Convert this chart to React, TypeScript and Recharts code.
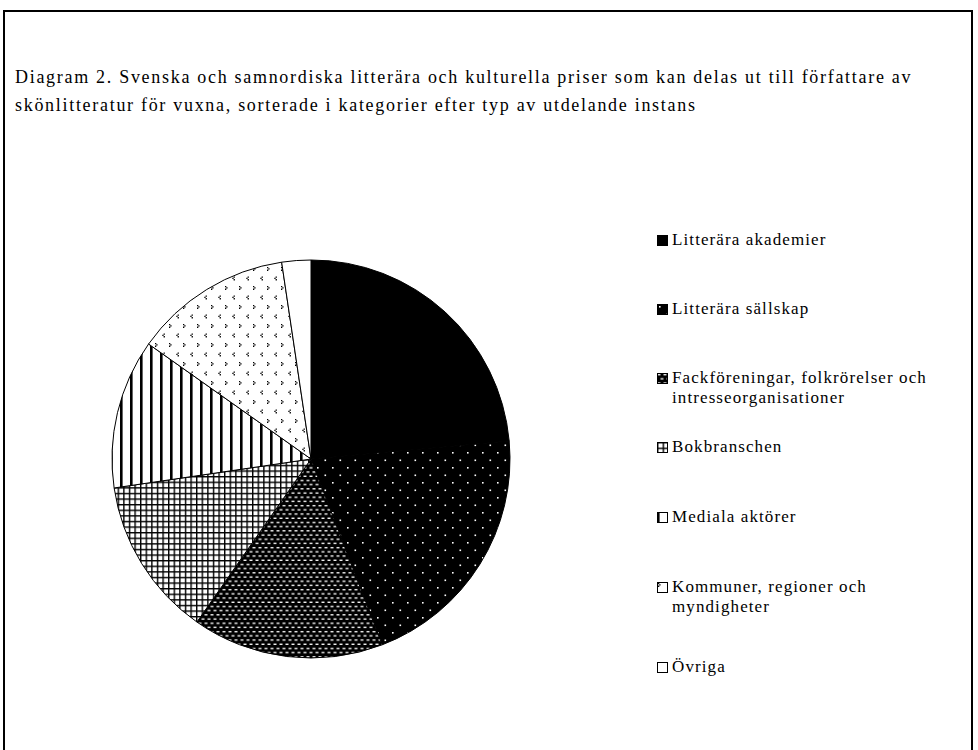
import React from 'react';
import { PieChart, Pie, Cell } from 'recharts';

const CATEGORIES = [
  'Litterära akademier',
  'Litterära sällskap',
  'Fackföreningar, folkrörelser och intresseorganisationer',
  'Bokbranschen',
  'Mediala aktörer',
  'Kommuner, regioner och myndigheter',
  'Övriga',
];
const VALUES = [20, 17.5, 13.2, 11, 10.3, 10.9, 2];
const LEGEND_LINES = [
  ['Litterära akademier'],
  ['Litterära sällskap'],
  ['Fackföreningar, folkrörelser och', 'intresseorganisationer'],
  ['Bokbranschen'],
  ['Mediala aktörer'],
  ['Kommuner, regioner och', 'myndigheter'],
  ['Övriga'],
];
const FILLS = ['#000', 'url(#pDots)', 'url(#pDash)', 'url(#pGrid)', 'url(#pVert)', 'url(#pDivot)', '#fff'];
const LEGEND_TOPS = [240, 309, 378, 447, 517, 587, 667];

const data = CATEGORIES.map((name, i) => ({ name, value: VALUES[i] }));

const FONT = '"Liberation Serif", "DejaVu Serif", serif';

const Patterns = () => (
  <svg width={0} height={0} style={{ position: 'absolute' }}>
    <defs>
      <pattern id="pDots" width={15} height={15} patternUnits="userSpaceOnUse">
        <rect width={15} height={15} fill="#000" />
        <rect x={2} y={2} width={1.6} height={1.6} fill="#fff" />
        <rect x={9.5} y={9.5} width={1.6} height={1.6} fill="#fff" />
      </pattern>
      <pattern id="pDash" width={6} height={8.4} patternUnits="userSpaceOnUse">
        <rect width={6} height={8.4} fill="#000" />
        <rect x={0.5} y={1} width={3} height={1.3} fill="#fff" />
        <rect x={3.5} y={5.2} width={3} height={1.3} fill="#fff" />
        <rect x={0} y={5.2} width={0.5} height={1.3} fill="#fff" />
      </pattern>
      <pattern id="pGrid" width={5.6} height={5.6} patternUnits="userSpaceOnUse">
        <rect width={5.6} height={5.6} fill="#fff" />
        <rect x={0} y={0} width={1.4} height={5.6} fill="#000" />
        <rect x={0} y={0} width={5.6} height={1.4} fill="#000" />
      </pattern>
      <pattern id="pVert" width={10} height={10} patternUnits="userSpaceOnUse">
        <rect width={10} height={10} fill="#fff" />
        <rect x={0} y={0} width={2.6} height={10} fill="#000" />
      </pattern>
      <pattern id="pDivot" width={14} height={19} patternUnits="userSpaceOnUse">
        <rect width={14} height={19} fill="#fff" />
        <path d="M1,1 h1.3 v1.3 h1.3 v1.3 h-1.3 v1.3 h-1.3 v-1.3 h1.3 v-1.3 h-1.3 z" fill="#000" />
        <path d="M9.6,10.5 h1.3 v1.3 h-1.3 v1.3 h1.3 v1.3 h-1.3 v-1.3 h-1.3 v-1.3 h1.3 z" fill="#000" />
      </pattern>
    </defs>
  </svg>
);

const ChartLegend = () => (
  <div style={{ position: 'absolute', left: 657, top: 0 }}>
    {CATEGORIES.map((name, i) => (
      <div
        key={name}
        style={{
          position: 'absolute',
          left: 0,
          top: LEGEND_TOPS[i] - 10,
          display: 'flex',
          alignItems: 'flex-start',
          fontFamily: FONT,
          fontSize: 17,
          letterSpacing: 1.1,
          lineHeight: '20px',
          color: '#000',
          whiteSpace: 'nowrap',
        }}
      >
        <svg width={11} height={11} style={{ marginTop: 5, marginRight: 4, flex: 'none' }}>
          <rect x={0.5} y={0.5} width={10} height={10} fill={FILLS[i]} stroke="#000" strokeWidth={1} />
        </svg>
        <div>
          {LEGEND_LINES[i].map((l) => (
            <div key={l}>{l}</div>
          ))}
        </div>
      </div>
    ))}
  </div>
);

export default function App() {
  return (
    <div style={{ position: 'absolute', left: 0, top: 0, width: 978, height: 750, background: '#fff', overflow: 'hidden' }}>
      <Patterns />
      <div
        style={{
          position: 'absolute',
          left: 3,
          top: 10,
          width: 970,
          height: 745,
          border: '2px solid #000',
          boxSizing: 'border-box',
        }}
      />
      <div
        style={{
          position: 'absolute',
          left: 15,
          top: 63,
          width: 960,
          fontFamily: FONT,
          fontSize: 18,
          letterSpacing: 1.7,
          lineHeight: '28px',
          color: '#000',
          whiteSpace: 'nowrap',
        }}
      >
        Diagram 2. Svenska och samnordiska litterära och kulturella priser som kan delas ut till författare av
        <br />
        skönlitteratur för vuxna, sorterade i kategorier efter typ av utdelande instans
      </div>
      <div style={{ position: 'absolute', left: 0, top: 0 }}>
        <PieChart width={978} height={750} margin={{ top: 0, right: 0, bottom: 0, left: 0 }}>
          <Pie
            data={data}
            dataKey="value"
            nameKey="name"
            cx={311}
            cy={459}
            outerRadius={199}
            startAngle={90}
            endAngle={-270}
            stroke="#000"
            strokeWidth={1}
            isAnimationActive={false}
          >
            {data.map((d, i) => (
              <Cell key={d.name} fill={FILLS[i]} />
            ))}
          </Pie>
        </PieChart>
      </div>
      <ChartLegend />
    </div>
  );
}
